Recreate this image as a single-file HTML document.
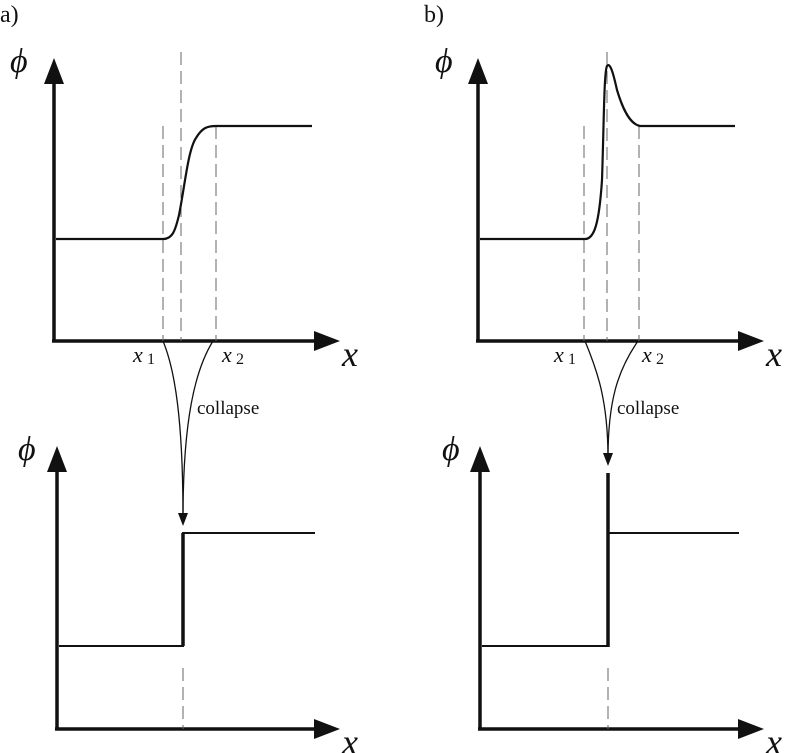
<!DOCTYPE html>
<html><head><meta charset="utf-8"><style>html,body{margin:0;padding:0;background:#fff}svg{display:block}</style></head>
<body>
<svg width="796" height="753" viewBox="0 0 796 753" xmlns="http://www.w3.org/2000/svg" font-family="Liberation Serif, serif">
<defs>
<marker id="ah" markerWidth="10" markerHeight="10" refX="9" refY="5" orient="auto" markerUnits="userSpaceOnUse"><path d="M0,0 L10,5 L0,10 Z" fill="#111"/></marker>
</defs>
<g stroke="#111" fill="none">
<!-- Panel a top -->
<line x1="54" y1="341" x2="54" y2="80" stroke-width="3.5"/>
<polygon points="54,58 44,84 64,84" fill="#111" stroke="none"/>
<line x1="52" y1="341" x2="318" y2="341" stroke-width="3.5"/>
<polygon points="340,341 314,331 314,351" fill="#111" stroke="none"/>
<g stroke="#666" stroke-width="1" stroke-dasharray="13,6">
<line x1="163" y1="126" x2="163" y2="341"/>
<line x1="181" y1="52" x2="181" y2="341"/>
<line x1="216" y1="126" x2="216" y2="341"/>
</g>
<path d="M56,239 L163,239 C172,239 175,232 179,215 C185,185 188,150 196,138 C202,128 207,126 216,126 L312,126" stroke-width="2.2"/>
<!-- Panel b top -->
<line x1="478" y1="341" x2="478" y2="80" stroke-width="3.5"/>
<polygon points="478,58 468,84 488,84" fill="#111" stroke="none"/>
<line x1="476" y1="341" x2="742" y2="341" stroke-width="3.5"/>
<polygon points="764,341 738,331 738,351" fill="#111" stroke="none"/>
<g stroke="#666" stroke-width="1" stroke-dasharray="13,6">
<line x1="584" y1="126" x2="584" y2="341"/>
<line x1="607" y1="52" x2="607" y2="341"/>
<line x1="639" y1="126" x2="639" y2="341"/>
</g>
<path d="M480,239 L585,239 C594,239 599,225 602,180 C604,120 604,72 607,66 C610,62 613,72 617,90 C623,110 630,124 640,126 L735,126" stroke-width="2.2"/>
<!-- collapse arrows a -->
<path d="M163,341 C175,370 183,420 183,518" stroke-width="1.3"/>
<path d="M213,341 C195,370 183,420 183,518" stroke-width="1.3"/>
<polygon points="183,526 178,513 188,513" fill="#111" stroke="none"/>
<!-- collapse arrows b -->
<path d="M585,341 C597,370 608,400 608,458" stroke-width="1.3"/>
<path d="M638,341 C618,370 608,400 608,458" stroke-width="1.3"/>
<polygon points="608,466 603,453 613,453" fill="#111" stroke="none"/>
<!-- Panel a bottom -->
<line x1="57" y1="729" x2="57" y2="468" stroke-width="3.5"/>
<polygon points="57,446 47,472 67,472" fill="#111" stroke="none"/>
<line x1="55" y1="729" x2="318" y2="729" stroke-width="3.5"/>
<polygon points="340,729 314,719 314,739" fill="#111" stroke="none"/>
<line x1="183" y1="668" x2="183" y2="729" stroke="#666" stroke-width="1" stroke-dasharray="13,6"/>
<path d="M59,646 L183,646 L183,533 L315,533" stroke-width="2"/>
<line x1="183" y1="646" x2="183" y2="533" stroke-width="3.5"/>
<!-- Panel b bottom -->
<line x1="480" y1="729" x2="480" y2="468" stroke-width="3.5"/>
<polygon points="480,446 470,472 490,472" fill="#111" stroke="none"/>
<line x1="478" y1="729" x2="742" y2="729" stroke-width="3.5"/>
<polygon points="764,729 738,719 738,739" fill="#111" stroke="none"/>
<line x1="608" y1="668" x2="608" y2="729" stroke="#666" stroke-width="1" stroke-dasharray="13,6"/>
<path d="M482,646 L608,646 M608,533 L739,533" stroke-width="2"/>
<line x1="608" y1="647" x2="608" y2="473" stroke-width="3.5"/>
</g>
<g fill="#111">
<text x="0" y="22" font-size="24">a)</text>
<text x="424" y="22" font-size="24">b)</text>
<text x="10" y="72" font-size="34" font-style="italic">ϕ</text>
<text x="435" y="72" font-size="34" font-style="italic">ϕ</text>
<text x="18" y="460" font-size="34" font-style="italic">ϕ</text>
<text x="442" y="460" font-size="34" font-style="italic">ϕ</text>
<text x="342" y="366" font-size="36" font-style="italic">x</text>
<text x="766" y="366" font-size="36" font-style="italic">x</text>
<text x="342" y="754" font-size="36" font-style="italic">x</text>
<text x="766" y="754" font-size="36" font-style="italic">x</text>
<text x="133" y="362" font-size="22" font-style="italic">x</text><text x="147" y="364" font-size="16">1</text>
<text x="222" y="362" font-size="22" font-style="italic">x</text><text x="236" y="364" font-size="16">2</text>
<text x="554" y="362" font-size="22" font-style="italic">x</text><text x="568" y="364" font-size="16">1</text>
<text x="642" y="362" font-size="22" font-style="italic">x</text><text x="656" y="364" font-size="16">2</text>
<text x="197" y="414" font-size="19">collapse</text>
<text x="617" y="414" font-size="19">collapse</text>
</g>
</svg>
</body></html>
